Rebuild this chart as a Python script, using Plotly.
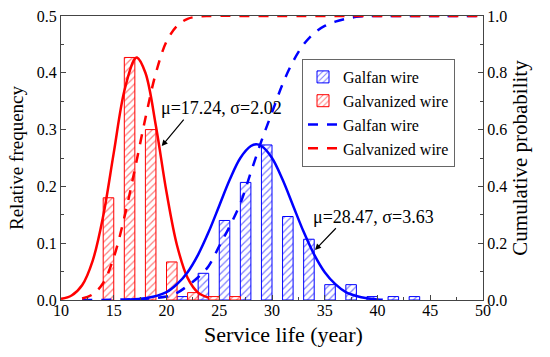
import plotly.graph_objects as go

# Histogram data
red_bins = [14.5, 16.5, 18.5, 20.5, 22.5, 24.5, 26.5]
red_freq = [0.18, 0.427, 0.30, 0.067, 0.013, 0.006, 0.006]
blue_bins = [21.5, 23.5, 25.5, 27.5, 29.5, 31.5, 33.5, 35.5, 37.5, 39.5, 41.5, 43.5]
blue_freq = [0.006, 0.047, 0.14, 0.207, 0.273, 0.147, 0.107, 0.027, 0.027, 0.006, 0.006, 0.006]

# Fitted curves
red_fit_x = [10, 11, 12, 13, 14, 15, 16, 17, 17.2, 18, 19, 20, 21, 22, 23, 24]
red_fit_y = [0.002, 0.008, 0.026, 0.069, 0.148, 0.259, 0.368, 0.425, 0.427, 0.400, 0.306, 0.190, 0.096, 0.039, 0.013, 0.004]
blue_fit_x = [16.5, 18, 20, 21, 22, 23, 24, 25, 26, 27, 28, 28.5, 29, 30, 31, 32, 33, 34, 35, 36, 37, 38, 39, 40, 40.5]
blue_fit_y = [0.001, 0.003, 0.014, 0.028, 0.049, 0.080, 0.120, 0.166, 0.212, 0.250, 0.271, 0.274, 0.271, 0.250, 0.212, 0.166, 0.120, 0.080, 0.049, 0.028, 0.014, 0.007, 0.003, 0.001, 0.0005]

# Cumulative probability curves
red_cdf_x = [12, 13, 14, 15, 16, 17, 18, 19, 20, 21, 22, 23, 24, 30, 40, 50]
red_cdf_y = [0.005, 0.02, 0.06, 0.15, 0.29, 0.46, 0.64, 0.80, 0.91, 0.965, 0.99, 0.998, 1.0, 1.0, 1.0, 1.0]
blue_cdf_x = [12, 16, 20, 21, 22, 23, 24, 25, 26, 27, 28, 29, 30, 31, 32, 33, 34, 35, 36, 37, 38, 39, 40, 45, 50]
blue_cdf_y = [0.0, 0.002, 0.012, 0.025, 0.05, 0.08, 0.12, 0.19, 0.26, 0.34, 0.45, 0.56, 0.66, 0.76, 0.84, 0.90, 0.94, 0.965, 0.98, 0.99, 0.997, 1.0, 1.0, 1.0, 1.0]

x_ticks = [10, 15, 20, 25, 30, 35, 40, 45, 50]

FONT = "Liberation Serif"
BLUE = "#0000ff"
RED = "#ff0000"
AX = "#444444"

fig = go.Figure()

fig.add_trace(go.Bar(
    x=blue_bins, y=blue_freq, width=1.0, name="Galfan wire",
    marker=dict(color="white", line=dict(color=BLUE, width=1),
                pattern=dict(shape="/", fgcolor=BLUE, bgcolor="white", size=5, solidity=0.25)),
))
fig.add_trace(go.Bar(
    x=red_bins, y=red_freq, width=1.0, name="Galvanized wire",
    marker=dict(color="white", line=dict(color=RED, width=1),
                pattern=dict(shape="/", fgcolor=RED, bgcolor="white", size=5, solidity=0.25)),
))
fig.add_trace(go.Scatter(x=red_fit_x, y=red_fit_y, mode="lines", line=dict(color=RED, width=2.5, shape="spline"),
                         showlegend=False))
fig.add_trace(go.Scatter(x=blue_fit_x, y=blue_fit_y, mode="lines", line=dict(color=BLUE, width=2.5, shape="spline"),
                         showlegend=False))
fig.add_trace(go.Scatter(x=blue_cdf_x, y=blue_cdf_y, mode="lines", name="Galfan wire", yaxis="y2",
                         line=dict(color=BLUE, width=2.5, dash="10px,9px", shape="spline")))
fig.add_trace(go.Scatter(x=red_cdf_x, y=red_cdf_y, mode="lines", name="Galvanized wire", yaxis="y2",
                         line=dict(color=RED, width=2.5, dash="10px,9px", shape="spline")))

fig.add_annotation(x=19.55, y=0.271, ax=21.75, ay=0.32, xref="x", yref="y", axref="x", ayref="y",
                   showarrow=True, arrowhead=2, arrowsize=1, arrowwidth=1.2, arrowcolor="black", text="")
fig.add_annotation(x=25.2, y=0.338, xref="x", yref="y", text="μ=17.24, σ=2.02", showarrow=False,
                   font=dict(family=FONT, size=18, color="black"))
fig.add_annotation(x=34.08, y=0.088, ax=36.19, ay=0.129, xref="x", yref="y", axref="x", ayref="y",
                   showarrow=True, arrowhead=2, arrowsize=1, arrowwidth=1.2, arrowcolor="black", text="")
fig.add_annotation(x=39.6, y=0.147, xref="x", yref="y", text="μ=28.47, σ=3.63", showarrow=False,
                   font=dict(family=FONT, size=18, color="black"))
# x-axis title (slightly right of centre, as in the reference)
fig.add_annotation(x=0.528, y=-0.123, xref="paper", yref="paper", text="Service life (year)", showarrow=False,
                   xanchor="center", yanchor="middle", font=dict(family=FONT, size=22, color="black"))

axis_common = dict(showline=True, linecolor=AX, linewidth=1.2, ticks="inside", ticklen=5, tickcolor=AX,
                   showgrid=False, zeroline=False, automargin=False,
                   tickfont=dict(family=FONT, size=16, color="black"))

fig.update_layout(
    width=550, height=357,
    margin=dict(l=61, r=67, t=16, b=57),
    plot_bgcolor="white", paper_bgcolor="white",
    barmode="overlay",
    font=dict(family=FONT, size=16, color="black"),
    xaxis=dict(range=[10, 50], tickvals=x_ticks, mirror=True, ticklabelstandoff=-4,
               minor=dict(ticks="inside", ticklen=3, dtick=2.5, tickcolor=AX),
               **axis_common),
    yaxis=dict(range=[0, 0.5], dtick=0.1, tickformat=".1f",
               minor=dict(ticks="inside", ticklen=3, dtick=0.05, tickcolor=AX),
               title=dict(text="Relative frequency", font=dict(family=FONT, size=19), standoff=8),
               **axis_common),
    yaxis2=dict(range=[0, 1.0], dtick=0.2, tickformat=".1f", overlaying="y", side="right",
                minor=dict(ticks="inside", ticklen=3, dtick=0.1, tickcolor=AX),
                title=dict(text="Cumulative probability", font=dict(family=FONT, size=21), standoff=6),
                **axis_common),
    legend=dict(x=(302 - 61) / 422, y=(300 - 59) / 284, xanchor="left", yanchor="top", bgcolor="white",
                bordercolor="#666666", borderwidth=1, font=dict(family=FONT, size=16),
                tracegroupgap=0, traceorder="normal"),
)

# remove the default page margin so the figure fills the window exactly
fig.write_html("out.html", config={"displayModeBar": False},
               post_script="document.body.style.margin='0px';")
